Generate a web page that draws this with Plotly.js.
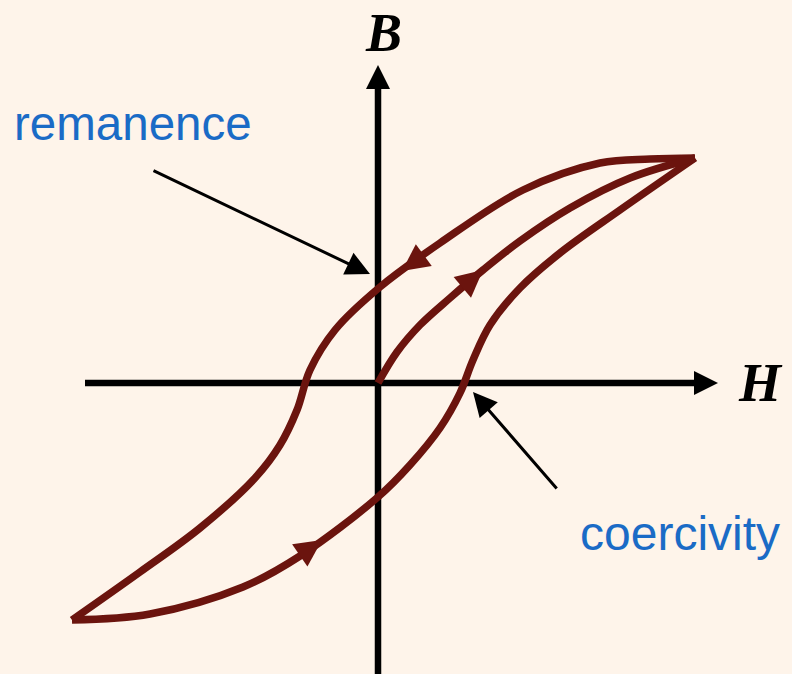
<!DOCTYPE html>
<html>
<head>
<meta charset="utf-8">
<script src="https://cdn.plot.ly/plotly-3.0.1.min.js"></script>
<style>html,body{margin:0;padding:0;background:#FEF4EA;}#chart{width:792px;height:674px;}</style>
</head>
<body>
<div id="chart"></div>
<script>
// Hysteresis loop data (arbitrary units H, B)
const upperH = [3.17, 2.72, 2.22, 1.45, 0.62, 0.02, -0.43, -0.68, -0.81, -0.98, -1.23, -1.78, -2.38, -3.06];
const upperB = [2.25, 2.24, 2.20, 1.93, 1.40, 0.96, 0.53, 0.13, -0.27, -0.62, -0.95, -1.45, -1.89, -2.37];
const lowerH = [-3.06, -2.28, -1.35, -0.78, 0.00, 0.32, 0.62, 0.82, 0.95, 1.12, 1.42, 1.82, 2.42, 3.17];
const lowerB = [-2.37, -2.31, -2.04, -1.73, -1.14, -0.82, -0.45, -0.10, 0.23, 0.58, 0.95, 1.30, 1.73, 2.25];
const initH = [0.00, 0.19, 0.42, 0.72, 1.05, 1.42, 1.92, 2.52, 3.17];
const initB = [0.00, 0.31, 0.58, 0.85, 1.13, 1.42, 1.75, 2.05, 2.25];

// direction arrows on curves: [previous point, tip] pairs
const arrowH = [0.50, 0.24, 0.80, 1.05, -0.85, -0.56];
const arrowB = [1.31, 1.12, 0.92, 1.13, -1.77, -1.57];

// axes extents
const hAxisMin = -2.93, hAxisMax = 3.22, hTip = 3.40;
const bAxisMin = -2.95, bAxisMax = 3.00, bTip = 3.18;

const xRange = [-3.78, 4.14];
const yRange = [-2.91, 3.83];

const curveColor = '#6B140E';
const lineStyle = {color: curveColor, width: 7.5, shape: 'spline', smoothing: 1};

const traces = [
  {x: upperH, y: upperB, mode: 'lines', line: lineStyle, hoverinfo: 'skip'},
  {x: lowerH, y: lowerB, mode: 'lines', line: lineStyle, hoverinfo: 'skip'},
  {x: initH, y: initB, mode: 'lines', line: lineStyle, hoverinfo: 'skip'},
  {x: arrowH, y: arrowB, mode: 'markers', hoverinfo: 'skip',
   marker: {symbol: 'arrow-up', angleref: 'previous', size: [0, 27, 0, 27, 0, 27], opacity: 1, color: curveColor, line: {width: 0}}},
  {x: [hTip, 0], y: [0, bTip], mode: 'markers', hoverinfo: 'skip',
   marker: {symbol: ['arrow-right', 'arrow-up'], size: 24, opacity: 1, color: '#000', line: {width: 0}}}
];

const layout = {
  width: 792, height: 674,
  margin: {l: 0, r: 0, t: 0, b: 0, pad: 0},
  paper_bgcolor: '#FEF4EA', plot_bgcolor: '#FEF4EA',
  showlegend: false, hovermode: false,
  xaxis: {range: xRange, visible: false, fixedrange: true},
  yaxis: {range: yRange, visible: false, fixedrange: true},
  shapes: [
    {type: 'line', xref: 'x', yref: 'y', x0: hAxisMin, x1: hAxisMax, y0: 0, y1: 0, line: {color: '#000', width: 6.5}, layer: 'below'},
    {type: 'line', xref: 'x', yref: 'y', x0: 0, x1: 0, y0: bAxisMin, y1: bAxisMax, line: {color: '#000', width: 6.5}, layer: 'below'}
  ],
  annotations: [
    {x: 0.05, y: 3.50, xref: 'x', yref: 'y', text: '<b><i>B</i></b>', showarrow: false,
     font: {family: 'Liberation Serif, Times New Roman, serif', size: 54, color: '#000'}},
    {x: 3.82, y: 0.0, xref: 'x', yref: 'y', text: '<b><i>H</i></b>', showarrow: false,
     font: {family: 'Liberation Serif, Times New Roman, serif', size: 54, color: '#000'}},
    {x: -2.45, y: 2.60, xref: 'x', yref: 'y', text: 'remanence', showarrow: false,
     font: {family: 'Liberation Sans, Arial, sans-serif', size: 47.5, color: '#1A6BC6'}},
    {x: 3.02, y: -1.50, xref: 'x', yref: 'y', text: 'coercivity', showarrow: false,
     font: {family: 'Liberation Sans, Arial, sans-serif', size: 48, color: '#1A6BC6'}},
    {x: -0.08, y: 1.09, ax: -2.26, ay: 2.13, xref: 'x', yref: 'y', axref: 'x', ayref: 'y',
     text: '', showarrow: true, arrowhead: 2, arrowsize: 1.6, arrowwidth: 3, arrowcolor: '#000', standoff: 0},
    {x: 0.95, y: -0.09, ax: 1.80, ay: -1.07, xref: 'x', yref: 'y', axref: 'x', ayref: 'y',
     text: '', showarrow: true, arrowhead: 2, arrowsize: 1.6, arrowwidth: 3, arrowcolor: '#000', standoff: 0}
  ]
};

Plotly.newPlot('chart', traces, layout, {staticPlot: true, displayModeBar: false});
</script>
</body>
</html>
